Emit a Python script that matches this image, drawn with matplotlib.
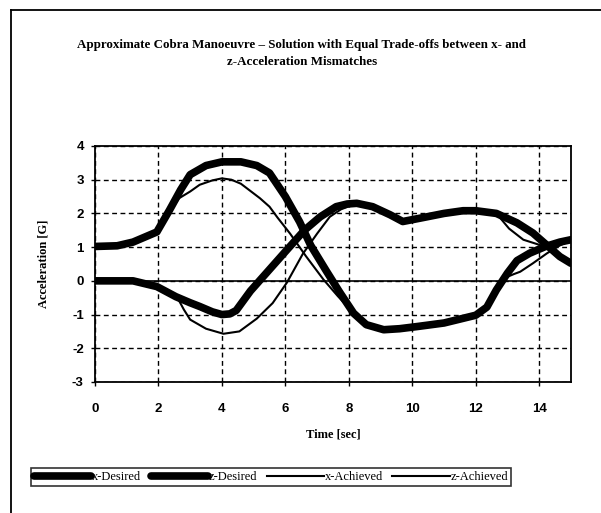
import matplotlib
matplotlib.use("Agg")
import matplotlib.pyplot as plt
from matplotlib.lines import Line2D

plt.rcParams["axes.unicode_minus"] = False

# Time histories of the demanded and achieved body accelerations [G]
t_x_des = [0, 1.2, 1.95, 2.55, 3.0, 3.3, 3.7, 4.0, 4.25, 4.45, 4.9, 5.4, 6.05, 6.6, 7.1,
           7.6, 7.95, 8.25, 8.75, 9.3, 9.7, 10.25, 11.0, 11.6, 12.0, 12.65, 13.3, 13.8,
           14.25, 14.65, 15.0]
x_des = [0.0, 0.0, -0.17, -0.47, -0.65, -0.76, -0.92, -1.0, -0.98, -0.88, -0.3, 0.23, 0.92,
         1.5, 1.9, 2.2, 2.28, 2.3, 2.2, 1.96, 1.76, 1.86, 2.0, 2.08, 2.08, 2.0, 1.72, 1.42,
         1.05, 0.72, 0.52]

t_z_des = [0, 0.7, 1.2, 1.95, 2.35, 2.7, 3.0, 3.5, 4.0, 4.6, 5.1, 5.5, 6.0, 6.45, 6.8,
           7.3, 7.7, 8.15, 8.55, 9.1, 9.6, 10.2, 11.0, 12.0, 12.35, 12.65, 13.0, 13.3,
           13.7, 14.2, 14.65, 15.0]
z_des = [1.02, 1.04, 1.15, 1.45, 2.1, 2.7, 3.15, 3.42, 3.53, 3.53, 3.42, 3.2, 2.5, 1.75,
         1.05, 0.28, -0.32, -0.96, -1.3, -1.45, -1.42, -1.35, -1.25, -1.02, -0.78, -0.27,
         0.23, 0.6, 0.82, 1.02, 1.15, 1.22]

t_x_ach = [0, 1.2, 1.95, 2.6, 2.8, 3.0, 3.5, 4.05, 4.55, 5.1, 5.6, 6.05, 6.55, 7.0, 7.4,
           7.75, 8.25, 8.75, 9.3, 9.7, 10.25, 11.0, 11.6, 12.0, 12.65, 13.05, 13.5, 14.0,
           14.3, 14.65, 15.0]
x_ach = [0.0, 0.0, -0.17, -0.5, -0.85, -1.15, -1.42, -1.57, -1.5, -1.12, -0.66, -0.05,
         0.8, 1.4, 1.9, 2.12, 2.3, 2.2, 1.96, 1.76, 1.86, 2.0, 2.08, 2.08, 2.0, 1.55, 1.22,
         1.07, 0.95, 0.72, 0.52]

t_z_ach = [0, 0.7, 1.2, 1.95, 2.35, 2.65, 3.0, 3.3, 3.7, 4.0, 4.3, 4.6, 5.2, 5.5, 5.75,
           6.15, 6.65, 7.2, 7.65, 8.15, 8.55, 9.1, 9.6, 10.2, 11.0, 12.0, 12.35, 12.7,
           12.95, 13.2, 13.4, 13.8, 14.25, 14.65, 15.0]
z_ach = [1.02, 1.04, 1.15, 1.45, 2.05, 2.45, 2.65, 2.85, 2.98, 3.04, 3.0, 2.88, 2.45, 2.2,
         1.88, 1.4, 0.73, 0.04, -0.45, -0.96, -1.3, -1.45, -1.42, -1.35, -1.25, -1.02,
         -0.78, -0.25, 0.1, 0.2, 0.27, 0.52, 0.82, 1.05, 1.2]

x_ticks = [0, 2, 4, 6, 8, 10, 12, 14]
y_ticks = [-3, -2, -1, 0, 1, 2, 3, 4]

serif = "Liberation Serif"
sans = "Liberation Sans"

fig = plt.figure(figsize=(6.01, 5.13), dpi=100)
ax = fig.add_axes([0.158, 0.2554, 0.792, 0.46])

thick = dict(color="black", lw=5.5, solid_capstyle="round", solid_joinstyle="round")
thin = dict(color="black", lw=1.5, solid_joinstyle="round")
ax.plot(t_x_des, x_des, label="x-Desired", **thick)
ax.plot(t_z_des, z_des, label="z-Desired", **thick)
ax.plot(t_x_ach, x_ach, label="x-Achieved", **thin)
ax.plot(t_z_ach, z_ach, label="z-Achieved", **thin)

ax.axhline(0, color="black", lw=1.2, zorder=1)
ax.set_xlim(0, 15)
ax.set_ylim(-3, 4)
ax.set_xticks(x_ticks)
ax.set_yticks(y_ticks)
ax.grid(True, color="black", ls=(0, (3.5, 2.5)), lw=1.0)
ax.set_axisbelow(True)
for s in ax.spines.values():
    s.set_linewidth(1.3)
ax.tick_params(axis="both", direction="out", length=3, width=1, labelsize=9.5)
ax.tick_params(axis="x", pad=12)
ax.tick_params(axis="y", pad=5)
for lab in ax.get_xticklabels() + ax.get_yticklabels():
    lab.set_fontfamily(sans)
    lab.set_fontweight("bold")

ax.set_xlabel("Time [sec]", fontfamily=serif, fontweight="bold", fontsize=9, labelpad=10)
ax.set_ylabel("Acceleration [G]", fontfamily=serif, fontweight="bold", fontsize=9, labelpad=16)

fig.text(0.502, 0.895,
         "Approximate Cobra Manoeuvre \u2013 Solution with Equal Trade-offs between x- and\n"
         "z-Acceleration Mismatches",
         ha="center", va="center", fontfamily=serif, fontweight="bold", fontsize=9.4,
         linespacing=1.55)

# outer chart border
fig.add_artist(Line2D([11 / 601, 11 / 601], [0, 1 - 10 / 513], color="black", lw=1.3,
                      transform=fig.transFigure))
fig.add_artist(Line2D([11 / 601, 1], [1 - 10 / 513, 1 - 10 / 513], color="black", lw=1.3,
                      transform=fig.transFigure))

leg = fig.legend(loc="center", bbox_to_anchor=(271 / 601, 1 - 477 / 513), ncol=4,
                 frameon=True, fancybox=False, edgecolor="black", handlelength=4.6,
                 handletextpad=0.05, columnspacing=0.75, borderpad=0.25,
                 prop={"family": serif, "size": 9})
leg.get_frame().set_linewidth(1.2)

fig.savefig("out.png", dpi=100)
